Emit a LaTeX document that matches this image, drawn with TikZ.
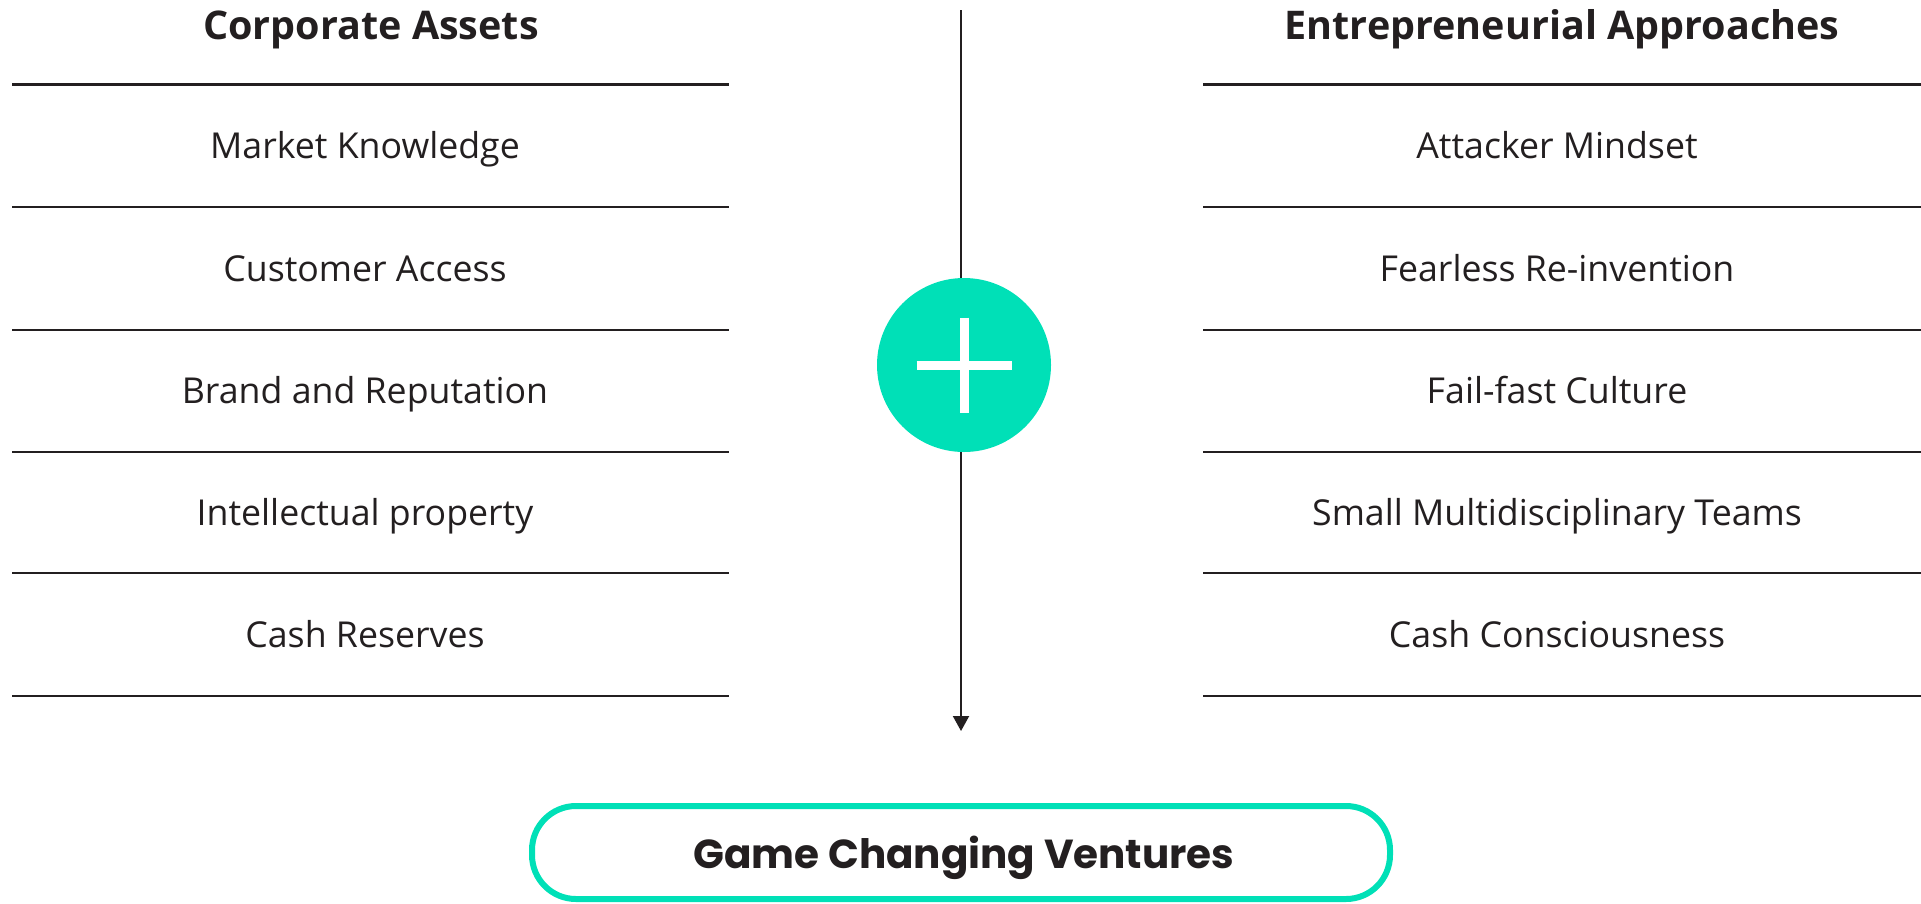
\documentclass[tikz,border=0pt]{standalone}
\usepackage{fontspec}
\setmainfont{Open Sans}
\newfontfamily\venturefont{Poppins}
\usetikzlibrary{arrows.meta}

\definecolor{mint}{RGB}{0,224,183}
\definecolor{ink}{RGB}{35,31,32}

\tikzset{
  head/.style={anchor=base, text=ink, font=\fontsize{39.5}{46}\selectfont\bfseries},
  item/.style={anchor=base, text=ink, font=\fontsize{35.7}{42}\selectfont},
  toprule/.style={ink, line width=3.5pt},
  rule/.style={ink, line width=1.6pt},
  plusdisc/.style={circle, fill=mint, minimum size=174pt, inner sep=0pt},
  ventbox/.style={draw=mint, line width=6pt, rounded corners=44pt,
    minimum width=858pt, minimum height=93pt, inner sep=0pt},
  venttext/.style={anchor=base, text=ink, font=\venturefont\fontsize{40.5}{48}\selectfont\bfseries}
}

\begin{document}
\begin{tikzpicture}[x=1pt,y=-1pt]
\useasboundingbox (0,0) rectangle (1921,903);

% corporate assets
\node[head] (assets) at (371,39) {Corporate Assets};
\draw[toprule] (12,84.5) -- (729,84.5);
\node[item] (market) at (365,158) {Market Knowledge};
\draw[rule] (12,207) -- (729,207);
\node[item] (customer) at (365,281) {Customer Access};
\draw[rule] (12,330) -- (729,330);
\node[item] (brand) at (365,403) {Brand and Reputation};
\draw[rule] (12,452) -- (729,452);
\node[item] (ip) at (365,525) {Intellectual property};
\draw[rule] (12,573) -- (729,573);
\node[item] (reserves) at (365,647) {Cash Reserves};
\draw[rule] (12,696) -- (729,696);

% entrepreneurial approaches
\node[head] (approaches) at (1562,39) {Entrepreneurial Approaches};
\draw[toprule] (1203,84.5) -- (1921,84.5);
\node[item] (attacker) at (1557,158) {Attacker Mindset};
\draw[rule] (1203,207) -- (1921,207);
\node[item] (fearless) at (1557,281) {Fearless Re-invention};
\draw[rule] (1203,330) -- (1921,330);
\node[item] (failfast) at (1557,403) {Fail-fast Culture};
\draw[rule] (1203,452) -- (1921,452);
\node[item] (teams) at (1557,525) {Small Multidisciplinary Teams};
\draw[rule] (1203,573) -- (1921,573);
\node[item] (conscious) at (1557,647) {Cash Consciousness};
\draw[rule] (1203,696) -- (1921,696);

% middle arrow with the plus on it
\coordinate (top) at (961,10);
\coordinate (tip) at (961,731);
\draw[ink, line width=2pt, -{Triangle[width=16pt,length=15pt]}] (top) -- (tip);

\node[plusdisc] (plus) at (964,365) {};
\draw[white, line width=9pt] (plus.center) +(-47.5,0) -- +(47.5,0);
\draw[white, line width=9pt] (plus.center) +(0,-47.5) -- +(0,47.5);

% result
\node[ventbox] (ventures) at (961,852.5) {};
\node[venttext] (venturelabel) at (964,868) {Game Changing Ventures};

\end{tikzpicture}
\end{document}
